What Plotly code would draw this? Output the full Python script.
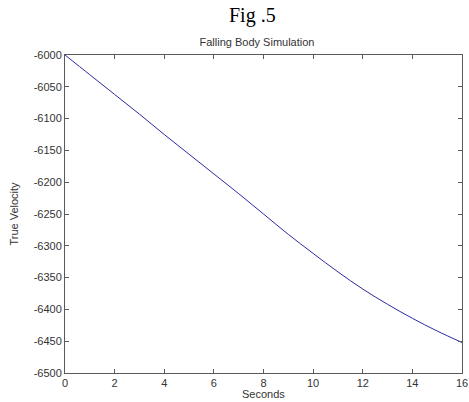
import plotly.graph_objects as go

seconds = [0, 1, 2, 3, 4, 5, 6, 7, 8, 9, 10, 11, 12, 13, 14, 15, 16]
true_velocity = [-6000, -6031, -6062, -6093, -6125, -6156, -6187, -6218, -6250,
                 -6282, -6312, -6341, -6368, -6392, -6414, -6434, -6452]
x_ticks = [0, 2, 4, 6, 8, 10, 12, 14, 16]
y_ticks = [-6000, -6050, -6100, -6150, -6200, -6250, -6300, -6350, -6400, -6450, -6500]

W, H = 469, 402
L, R, T, B = 65, 7, 55, 29
PW, PH = W - L - R, H - T - B

fig = go.Figure()
fig.add_trace(go.Scatter(x=seconds, y=true_velocity, mode="lines",
                         line=dict(color="#2b2b9c", width=1, shape="spline"),
                         showlegend=False, hoverinfo="skip"))

font_sans = "Liberation Sans, Arial"
axis_common = dict(showgrid=False, zeroline=False, showline=True, linecolor="#5a5a5a",
                   linewidth=1, mirror="allticks", ticks="inside", ticklen=4,
                   tickcolor="#5a5a5a", tickfont=dict(family=font_sans, size=11, color="#333"))
fig.update_xaxes(range=[0, 16], tickvals=x_ticks, ticktext=[str(v) for v in x_ticks],
                 automargin=False, **axis_common)
fig.update_yaxes(range=[-6500, -6000], tickvals=y_ticks, ticktext=[str(v) for v in y_ticks],
                 title=dict(text="True Velocity", font=dict(family=font_sans, size=11, color="#333"),
                            standoff=12),
                 **axis_common)

fig.update_layout(
    width=W, height=H,
    margin=dict(l=L, r=R, t=T, b=B, autoexpand=False),
    paper_bgcolor="white", plot_bgcolor="white",
    hovermode=False,
    title=dict(text="Falling Body Simulation", x=(257 - L) / PW, xref="paper",
               xanchor="center", y=1 - 42.5 / H, yref="container", yanchor="middle",
               font=dict(family=font_sans, size=11, color="#333")),
    annotations=[
        dict(text="Fig .5", x=(252 - L) / PW, y=(H - 16 - B) / PH, xref="paper", yref="paper",
             showarrow=False, xanchor="center", yanchor="middle",
             font=dict(family="Liberation Serif, Times New Roman", size=20, color="black")),
        dict(text="Seconds", x=0.5, y=(H - 394 - B) / PH, xref="paper", yref="paper",
             showarrow=False, xanchor="center", yanchor="middle",
             font=dict(family=font_sans, size=11, color="#333")),
    ],
)

fig.write_html("out.html", config={"displayModeBar": False, "staticPlot": True},
               post_script="document.body.style.margin='0';document.body.style.overflow='hidden';")
